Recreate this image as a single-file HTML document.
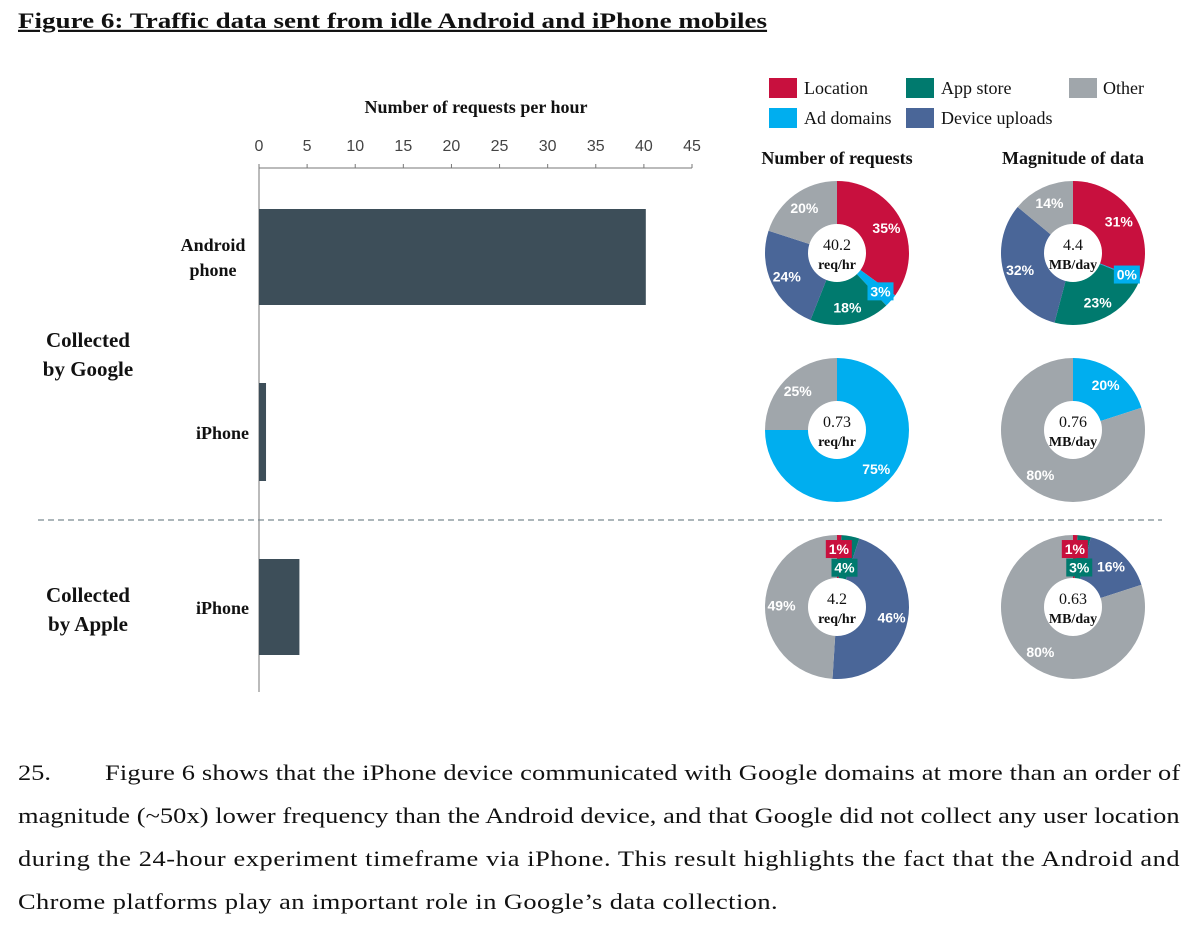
<!DOCTYPE html>
<html><head><meta charset="utf-8">
<style>
body{margin:0;background:#fff;width:1200px;height:927px;overflow:hidden;font-family:"Liberation Serif",serif;}
svg{position:absolute;left:0;top:0}
</style></head>
<body>
<svg width="1200" height="927" id="chart">
<g transform="scale(1.23,1)">
<text x="14.63" y="28" font-size="22" font-weight="bold" text-decoration="underline" fill="#111" textLength="609" lengthAdjust="spacingAndGlyphs">Figure 6: Traffic data sent from idle Android and iPhone mobiles</text>
</g>
<text x="476" y="113" font-size="18" font-weight="bold" text-anchor="middle" fill="#111">Number of  requests per hour</text>
<g id="axis"></g>
<g id="bars"></g>
<text x="213" y="251" font-size="18" font-weight="bold" text-anchor="middle" fill="#111"><tspan x="213">Android</tspan><tspan x="213" dy="25">phone</tspan></text>
<text x="249" y="439" font-size="18" font-weight="bold" text-anchor="end" fill="#111">iPhone</text>
<text x="249" y="614" font-size="18" font-weight="bold" text-anchor="end" fill="#111">iPhone</text>
<text x="88" y="347" font-size="21" font-weight="bold" text-anchor="middle" fill="#111"><tspan x="88">Collected</tspan><tspan x="88" dy="29">by Google</tspan></text>
<text x="88" y="602" font-size="21" font-weight="bold" text-anchor="middle" fill="#111"><tspan x="88">Collected</tspan><tspan x="88" dy="29">by Apple</tspan></text>
<line x1="38" y1="520" x2="1162" y2="520" stroke="#7a8a90" stroke-width="1.2" stroke-dasharray="6,4"/>
<g id="legend"></g>
<text x="837" y="164" font-size="18" font-weight="bold" text-anchor="middle" fill="#111">Number of requests</text>
<text x="1073" y="164" font-size="18" font-weight="bold" text-anchor="middle" fill="#111">Magnitude of data</text>
<g id="donuts"></g>
<g font-size="22" fill="#111" transform="scale(1.2,1)">
<text x="15" y="780">25.</text>
<text x="87.5" y="780" textLength="896" lengthAdjust="spacing">Figure 6 shows that the iPhone device communicated with Google domains at more than an order of</text>
<text x="15" y="823" textLength="968" lengthAdjust="spacing">magnitude (~50x) lower frequency than the Android device, and that Google did not collect any user location</text>
<text x="15" y="866" textLength="968" lengthAdjust="spacing">during the 24-hour experiment timeframe via iPhone. This result highlights the fact that the Android and</text>
<text x="15" y="909" textLength="633" lengthAdjust="spacing">Chrome platforms play an important role in Google’s data collection.</text>
</g>
</svg>
<script>
const barCategories=["Android phone (Google)","iPhone (Google)","iPhone (Apple)"];
const barValues=[40.2,0.73,4.2];
const tickValues=[0,5,10,15,20,25,30,35,40,45];
const sliceNames=["Location","Ad domains","App store","Device uploads","Other"];
const sliceColors=["#c8103e","#00aeef","#007a6e","#4a6698","#a0a6ab"];
const reqRow1=[35,3,18,24,20];
const dataRow1=[31,0.3,23,32,14];
const reqRow2=[0,75,0,0,25];
const dataRow2=[0,20,0,0,80];
const reqRow3=[1,0,4,46,49];
const dataRow3=[1,0,3,16,80];
const centerTop=["40.2","4.4","0.73","0.76","4.2","0.63"];
const centerBottom=["req/hr","MB/day","req/hr","MB/day","req/hr","MB/day"];

const NS="http://www.w3.org/2000/svg";
function mk(tag,attrs,parent){const e=document.createElementNS(NS,tag);for(const k in attrs)e.setAttribute(k,attrs[k]);parent.appendChild(e);return e;}
const x0=259,x1=692,xMax=45;
const xs=v=>x0+(v/xMax)*(x1-x0);
const axis=document.getElementById('axis');
let l=mk('line',{x1:x0,y1:168,x2:x1,y2:168,stroke:'#777','stroke-width':1},axis);


l=mk('line',{x1:x0,y1:168,x2:x0,y2:692,stroke:'#777','stroke-width':1},axis);


tickValues.forEach(v=>{
 const t=mk('line',{x1:xs(v),y1:164,x2:xs(v),y2:168,stroke:'#777'},axis);
 
 
 const tx=mk('text',{x:xs(v),y:151,'font-size':16,'text-anchor':'middle',fill:'#444','font-family':'Liberation Sans, sans-serif'},axis);
 tx.textContent=v;
 
 
});
const barY=[209,383,559];
const bars=document.getElementById('bars');
barValues.forEach((v,i)=>{
 const h=i==1?98:96;
 const r=mk('rect',{x:x0,y:barY[i],width:xs(v)-x0,height:h,fill:'#3d4e59'},bars);
 
 
});
const legend=document.getElementById('legend');
const legPos=[[769,78],[769,108],[906,78],[906,108],[1069,78]];
sliceNames.forEach((n,i)=>{
 const [lx,ly]=legPos[i];
 const r=mk('rect',{x:lx,y:ly,width:28,height:20,fill:sliceColors[i]},legend);
 
 
 const t=mk('text',{x:i==4?1103:lx+35,y:ly+16,'font-size':18,fill:'#111'},legend);
 t.textContent=n;
 
 
});
const donuts=document.getElementById('donuts');
const rows=[[reqRow1,dataRow1],[reqRow2,dataRow2],[reqRow3,dataRow3]];
const cxs=[837,1073],cys=[253,430,607],R=72,r0=29;
function pt(cx,cy,rad,f){const a=f*2*Math.PI-Math.PI/2;return [cx+rad*Math.cos(a),cy+rad*Math.sin(a)];}
rows.forEach((pair,ri)=>pair.forEach((vals,ci)=>{
 const cx=cxs[ci],cy=cys[ri];
 const tot=vals.reduce((a,b)=>a+b,0);
 let acc=0,smallIdx=0;
 const labels=[];
 vals.forEach((v,si)=>{
  if(v<=0){return;}
  const f0=acc/tot,f1=(acc+v)/tot;acc+=v;
  let d;
  if(f1-f0>=0.9999){d=`M${cx} ${cy-R}A${R} ${R} 0 1 1 ${cx-0.01} ${cy-R}Z`;}
  else{const [ax,ay]=pt(cx,cy,R,f0),[bx,by]=pt(cx,cy,R,f1);d=`M${cx} ${cy}L${ax} ${ay}A${R} ${R} 0 ${f1-f0>0.5?1:0} 1 ${bx} ${by}Z`;}
  const p=mk('path',{d:d,fill:sliceColors[si]},donuts);
  
  
  const mid=(f0+f1)/2;
  const small=v<6;
  let lx,ly;
  if(small){[lx,ly]=pt(cx,cy,58-18*smallIdx,mid);smallIdx++;}
  else{[lx,ly]=pt(cx,cy,(R+r0)/2+5,mid);}
  labels.push([lx,ly,Math.round(v)+'%',small,sliceColors[si]]);
 });
 labels.forEach(([lx,ly,txt,small,col])=>{
  if(small){
   const b=mk('rect',{x:lx-13,y:ly-9,width:26,height:18,fill:col},donuts);
   
   
  }
  const t=mk('text',{x:lx,y:ly+5,'font-size':14,'font-weight':'bold','text-anchor':'middle',fill:'#fff','font-family':'Liberation Sans, sans-serif'},donuts);
  t.textContent=txt;
  
  
 });
 const c=mk('circle',{cx:cx,cy:cy,r:r0,fill:'#fff'},donuts);
 
 
 const k=ri*2+ci;
 const t1=mk('text',{x:cx,y:cy-3,'font-size':16,'text-anchor':'middle',fill:'#111'},donuts);
 t1.textContent=centerTop[k];
 
 
 const t2=mk('text',{x:cx,y:cy+16,'font-size':14,'font-weight':'bold','text-anchor':'middle',fill:'#111'},donuts);
 t2.textContent=centerBottom[k];
 
 
}));
</script>
</body></html>
